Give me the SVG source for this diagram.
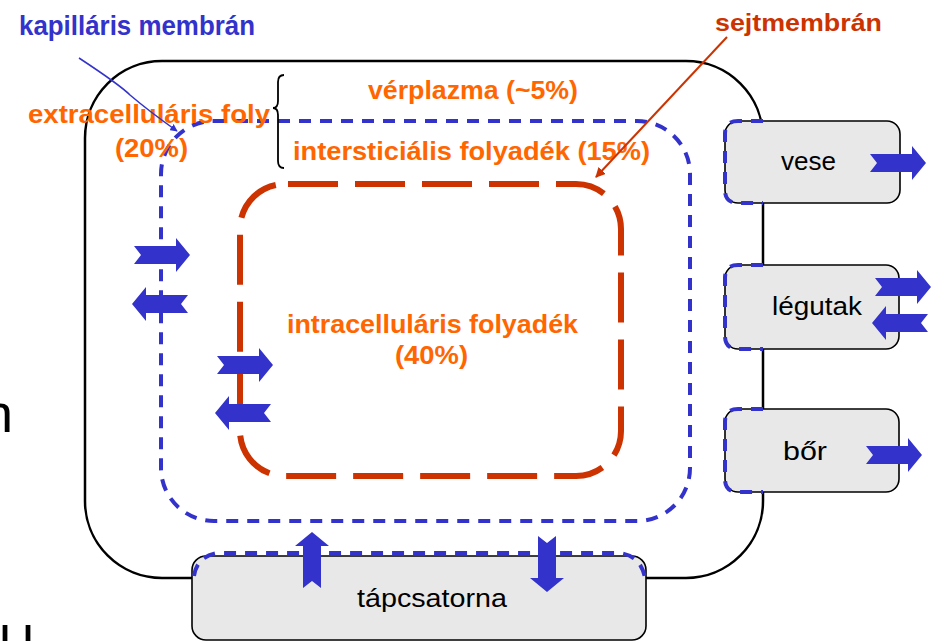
<svg xmlns="http://www.w3.org/2000/svg" width="935" height="641" viewBox="0 0 935 641">
<style>
.outer{fill:none;stroke:#000;stroke-width:2.5}
.cap{fill:none;stroke:#3333CC;stroke-width:4;stroke-dasharray:12 9}
.cell{fill:none;stroke:#CC3300;stroke-width:6;stroke-dasharray:50 17}
.box{fill:#E8E8E8;stroke:#000;stroke-width:1.6}
.lbl{font-family:"Liberation Sans",Arial,sans-serif;font-size:26px;fill:#000}
.or{font-family:"Liberation Sans",Arial,sans-serif;font-weight:bold;font-size:25px;fill:#FF6600}
.bl{font-family:"Liberation Sans",Arial,sans-serif;font-weight:bold;font-size:27px;fill:#3333CC}
.rd{font-family:"Liberation Sans",Arial,sans-serif;font-weight:bold;font-size:23px;fill:#CC3300}
.frag{font-family:"Liberation Sans",Arial,sans-serif;font-size:54px;fill:#000}
.arr{fill:#3333CC}
</style>
<defs>
<path id="ba" d="M0 -9 H42 V-17 L56 0 L42 17 V9 H0 L7 0 Z"/>
<marker id="mb" viewBox="0 0 10 10" refX="9" refY="5" markerWidth="5" markerHeight="5" orient="auto" markerUnits="strokeWidth"><path d="M0 0 L10 5 L0 10 Z" fill="#3333CC"/></marker>
<marker id="mr" viewBox="0 0 10 10" refX="9" refY="5" markerWidth="5" markerHeight="5" orient="auto" markerUnits="strokeWidth"><path d="M0 0 L10 5 L0 10 Z" fill="#CC3300"/></marker>
</defs>

<g id="body">
<rect class="outer" x="85" y="61" width="678" height="517" rx="77" ry="77"/>
</g>

<g id="capillary-membrane">
<path class="cap" d="M215 121 H637 A53 53 0 0 1 690 174 V468 A53 53 0 0 1 637 521 H214 A53 53 0 0 1 161 468 V174 A53 53 0 0 1 215 121 Z"/>
</g>

<g id="cell-membrane">
<path class="cell" d="M288 184 H576 A45 45 0 0 1 621 229 V431 A45 45 0 0 1 576 476 H285 A45 45 0 0 1 240 431 V229 A45 45 0 0 1 285 184 Z"/>
</g>

<g id="brace">
<path d="M284 75 Q278 75 278 82 V101 Q278 108 273 108 Q278 108 278 115 V161 Q278 168 284 168" fill="none" stroke="#000" stroke-width="1.8"/>
</g>

<g id="vese">
<rect class="box" x="725" y="121" width="175" height="82" rx="13"/>
<path class="cap" d="M763 121 H738 Q725 121 725 134 V190 Q725 203 738 203 H763"/>
<text class="lbl" x="781" y="170" textLength="55" lengthAdjust="spacingAndGlyphs">vese</text>
</g>

<g id="legutak">
<rect class="box" x="725" y="265" width="174" height="84" rx="13"/>
<path class="cap" d="M763 265 H738 Q725 265 725 278 V336 Q725 349 738 349 H763"/>
<text class="lbl" x="772" y="315" textLength="90" lengthAdjust="spacingAndGlyphs">légutak</text>
</g>

<g id="bor">
<rect class="box" x="725" y="409" width="174" height="83" rx="13"/>
<path class="cap" d="M763 409 H738 Q725 409 725 422 V479 Q725 492 738 492 H763"/>
<text class="lbl" x="783" y="460" textLength="44" lengthAdjust="spacingAndGlyphs">bőr</text>
</g>

<g id="tapcsatorna">
<rect class="box" x="192" y="556" width="454" height="84" rx="14"/>
<path class="cap" d="M194 576 Q197 556 218 553 H620 Q641 556 645 578"/>
<text class="lbl" x="357" y="607" textLength="150" lengthAdjust="spacingAndGlyphs">tápcsatorna</text>
</g>

<g id="labels">
<text class="bl" x="19" y="35" textLength="236" lengthAdjust="spacingAndGlyphs">kapilláris membrán</text>
<text class="rd" x="715" y="31" textLength="167" lengthAdjust="spacingAndGlyphs">sejtmembrán</text>
<text class="or" x="28" y="123" textLength="242" lengthAdjust="spacingAndGlyphs">extracelluláris foly</text>
<text class="or" x="115" y="157" textLength="73" lengthAdjust="spacingAndGlyphs">(20%)</text>
<text class="or" x="368" y="99" textLength="210" lengthAdjust="spacingAndGlyphs">vérplazma (~5%)</text>
<text class="or" x="293" y="160" textLength="357" lengthAdjust="spacingAndGlyphs">intersticiális folyadék (15%)</text>
<text class="or" x="287" y="333" textLength="291" lengthAdjust="spacingAndGlyphs">intracelluláris folyadék</text>
<text class="or" x="395" y="364" textLength="73" lengthAdjust="spacingAndGlyphs">(40%)</text>
<text class="frag" x="-17" y="432">n</text>
<text class="frag" x="-1 22" y="664">ll</text>
</g>

<g id="connectors">
<path d="M79 58 Q120 85 130 95 Q150 112 177 131" fill="none" stroke="#3333CC" stroke-width="1.5" marker-end="url(#mb)"/>
<path d="M727 37 L596 177" fill="none" stroke="#CC3300" stroke-width="2" marker-end="url(#mr)"/>
<use href="#ba" class="arr" transform="translate(134,255)"/>
<use href="#ba" class="arr" transform="translate(188,304) scale(-1,1)"/>
<use href="#ba" class="arr" transform="translate(217,365)"/>
<use href="#ba" class="arr" transform="translate(271,413) scale(-1,1)"/>
<use href="#ba" class="arr" transform="translate(870,163)"/>
<use href="#ba" class="arr" transform="translate(875,287)"/>
<use href="#ba" class="arr" transform="translate(928,323) scale(-1,1)"/>
<use href="#ba" class="arr" transform="translate(866,455)"/>
<use href="#ba" class="arr" transform="translate(312,588) rotate(-90)"/>
<use href="#ba" class="arr" transform="translate(547,536) rotate(90)"/>
</g>
</svg>
